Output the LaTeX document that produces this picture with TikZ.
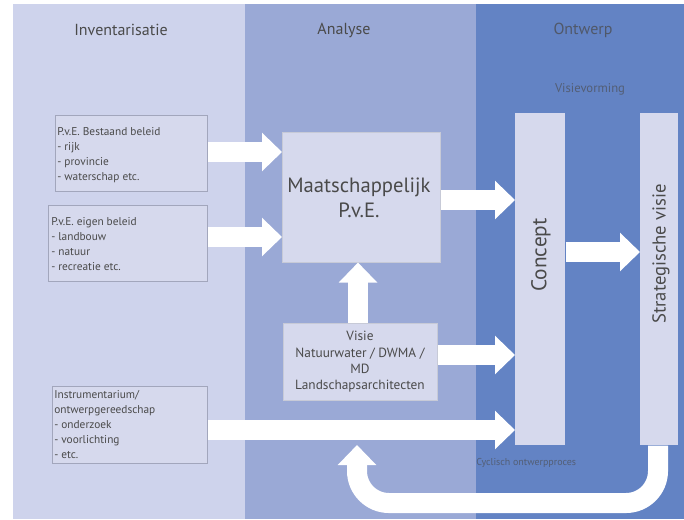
\documentclass[tikz,border=0pt]{standalone}
\usepackage{fontspec}
\setmainfont{PT Sans}
\usetikzlibrary{arrows.meta,calc}
\definecolor{colA}{HTML}{CED3EC}
\definecolor{colB}{HTML}{9AA9D6}
\definecolor{colC}{HTML}{6383C4}
\definecolor{boxfill}{HTML}{D6D9ED}
\definecolor{boxline}{HTML}{A2A6BC}
\definecolor{txt}{HTML}{4A4A4A}
\tikzset{
  px/.style={x=0.75pt,y=-0.75pt},
  smallbox/.style={draw=boxline,fill=boxfill,line width=0.6pt,inner sep=0pt,anchor=north west},
  bigbox/.style={draw=boxline!60,fill=boxfill,line width=0.4pt,inner sep=0pt,anchor=north west},
  smalltext/.style={text=txt,font=\fontsize{8.5}{11.2}\selectfont,align=left,anchor=north west,inner sep=0pt},
  head/.style={text=txt,font=\fontsize{12}{14}\selectfont},
  blockarrow/.style={draw=white,line width=15pt,-{Triangle[width=28pt,length=15pt]}},
}
\begin{document}
\begin{tikzpicture}[px]
\useasboundingbox (0,0) rectangle (684,519);
\fill[white] (0,0) rectangle (684,519);
% columns
\fill[colA] (13,4) rectangle (245,519);
\fill[colB] (245,4) rectangle (476,519);
\fill[colC] (476,4) rectangle (684,519);
% headers
\node[head] (h1) at (121,30) {Inventarisatie};
\node[head] (h2) at (344,30) {Analyse};
\node[head,text=txt!75!colC] (h3) at (583,30) {Ontwerp};
\node[text=txt!65!colC,font=\fontsize{9.5}{10}\selectfont] (vv) at (590,89) {Visievorming};
\node[text=txt!65!colC,font=\fontsize{7.5}{9}\selectfont,anchor=west,inner sep=0pt] (cyc) at (476,463) {Cyclisch ontwerpproces};
% left boxes
\node[smallbox,minimum width=152*0.75pt,minimum height=76*0.75pt] (b1) at (55,115) {};
\node[smalltext] at (57,127) {P.v.E. Bestaand beleid\\- rijk\\- provincie\\- waterschap etc.};
\node[smallbox,minimum width=159*0.75pt,minimum height=76*0.75pt] (b2) at (48,205) {};
\node[smalltext] at (51,217) {P.v.E. eigen beleid\\- landbouw\\- natuur\\- recreatie etc.};
\node[smallbox,minimum width=155*0.75pt,minimum height=77*0.75pt] (b3) at (52,386) {};
\node[smalltext] at (54,390) {Instrumentarium/\\ontwerpgereedschap\\- onderzoek\\- voorlichting\\- etc.};
% analysis boxes
\node[bigbox,minimum width=158*0.75pt,minimum height=130*0.75pt] (maat) at (282,132) {};
\node[text=txt,font=\fontsize{15.5}{19}\selectfont,align=center] at (359,198) {Maatschappelijk\\P.v.E.};
\node[bigbox,minimum width=154*0.75pt,minimum height=77*0.75pt] (visie) at (283,323) {};
\node[text=txt,font=\fontsize{10}{12.3}\selectfont,align=center] at (360,362) {Visie\\Natuurwater / DWMA /\\MD\\Landschapsarchitecten};
% design boxes
\node[bigbox,draw=none,minimum width=50*0.75pt,minimum height=332*0.75pt] (concept) at (515,113) {};
\node[text=txt,font=\fontsize{16}{18}\selectfont,rotate=90] at (541,255) {Concept};
\node[bigbox,draw=none,minimum width=38*0.75pt,minimum height=332*0.75pt] (strat) at (640,113) {};
\node[text=txt,font=\fontsize{14}{16}\selectfont,rotate=90] at (661,254) {Strategische visie};
% arrows
\draw[blockarrow] (b1.east |- 0,152) -- (maat.west |- 0,152);
\draw[blockarrow] (b2.east |- 0,237) -- (maat.west |- 0,237);
\draw[blockarrow] (visie.north -| 358,0) -- (maat.south -| 358,0);
\draw[blockarrow] (maat.east |- 0,200) -- (concept.west |- 0,200);
\draw[blockarrow] (visie.east |- 0,355) -- (concept.west |- 0,355);
\draw[blockarrow] (b3.east |- 0,430) -- (concept.west |- 0,430);
\draw[blockarrow] (concept.east |- 0,252) -- (strat.west |- 0,252);
\coordinate (fbend) at (357,445);
\draw[blockarrow,rounded corners=24pt] (strat.south -| 658,0) -- (658,503) -- (357,503) -- (fbend);
\end{tikzpicture}
\end{document}
